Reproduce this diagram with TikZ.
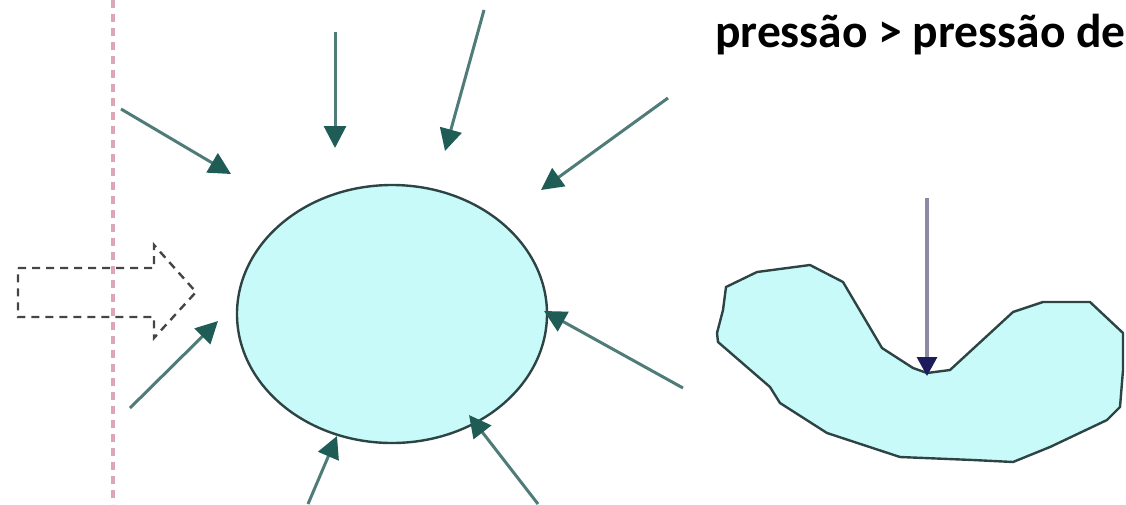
\documentclass[tikz,border=0pt]{standalone}
\usepackage{fontspec}
\newfontfamily\labelfont{Carlito}
\usetikzlibrary{arrows.meta,shapes.geometric}

\definecolor{fluid}{HTML}{C8FAFA}
\definecolor{rim}{HTML}{2E4444}
\definecolor{force}{HTML}{1F5C56}
\definecolor{forceline}{HTML}{4F7C78}
\definecolor{probe}{HTML}{1C1C5C}
\definecolor{probeline}{HTML}{8A8AA2}
\definecolor{wall}{HTML}{DDA6B6}
\definecolor{push}{HTML}{454545}

\tikzset{
  push arrow/.style={draw=forceline, line width=3pt,
    -{Triangle[length=22pt,width=22pt,fill=force,color=force]}},
  probe arrow/.style={draw=probeline, line width=3.2pt,
    -{Triangle[length=19pt,width=20pt,fill=probe,color=probe]}},
  body/.style={fill=fluid, draw=rim, line width=2.4pt},
  outline arrow/.style={draw=push, line width=2.4pt, dash pattern=on 8pt off 6pt},
  boundary/.style={draw=wall, line width=3.5pt, dash pattern=on 8pt off 6pt},
}

\begin{document}
\begin{tikzpicture}[x=1pt,y=-1pt]
\useasboundingbox (0,0) rectangle (1126,504);

% dashed vertical boundary
\coordinate (wtop) at (113,0);
\coordinate (wbot) at (113,504);
\draw[boundary] (wtop) -- (wbot);

% dashed block arrow
\draw[outline arrow] (18,268) -- (154,268) -- (154,245) -- (196,292)
  -- (154,338) -- (154,317) -- (18,317) -- cycle;

% the sphere
\node[ellipse, body, minimum width=310pt, minimum height=258pt, inner sep=0pt]
  (ball) at (392,314) {};

% pressure arrows around the sphere
\coordinate (s1) at (121,109);  \coordinate (e1) at (231,174);
\coordinate (s2) at (335,32);   \coordinate (e2) at (335,148);
\coordinate (s3) at (484,10);   \coordinate (e3) at (445,151);
\coordinate (s4) at (668,98);   \coordinate (e4) at (541,190);
\coordinate (s5) at (683,388);  \coordinate (e5) at (544,311);
\coordinate (s6) at (130,408);  \coordinate (e6) at (218,321);
\coordinate (s7) at (308,504);  \coordinate (e7) at (337,436);
\coordinate (s8) at (538,504);  \coordinate (e8) at (469,415);
\foreach \i in {1,...,8} \draw[push arrow] (s\i) -- (e\i);

% the deformed body
\draw[body] (726,287) -- (757,272) -- (810,265) -- (843,282) -- (882,348)
  -- (913,368) -- (927,373) -- (950,370) -- (1013,312) -- (1043,302)
  -- (1090,302) -- (1123,333) -- (1123,370) -- (1120,407) -- (1107,420)
  -- (1050,447) -- (1013,462) -- (973,460) -- (900,457) -- (827,433)
  -- (780,403) -- (770,387) -- (718,342) -- (717,333) -- (723,310) -- cycle;

\coordinate (ptop) at (927,198);
\coordinate (pdent) at (927,376);
\draw[probe arrow] (ptop) -- (pdent);

% caption
\node[anchor=base west, inner sep=0pt, font=\labelfont\bfseries\fontsize{47.5}{52}\selectfont]
  (caption) at (715,47) {pressão > pressão de};
\end{tikzpicture}
\end{document}
